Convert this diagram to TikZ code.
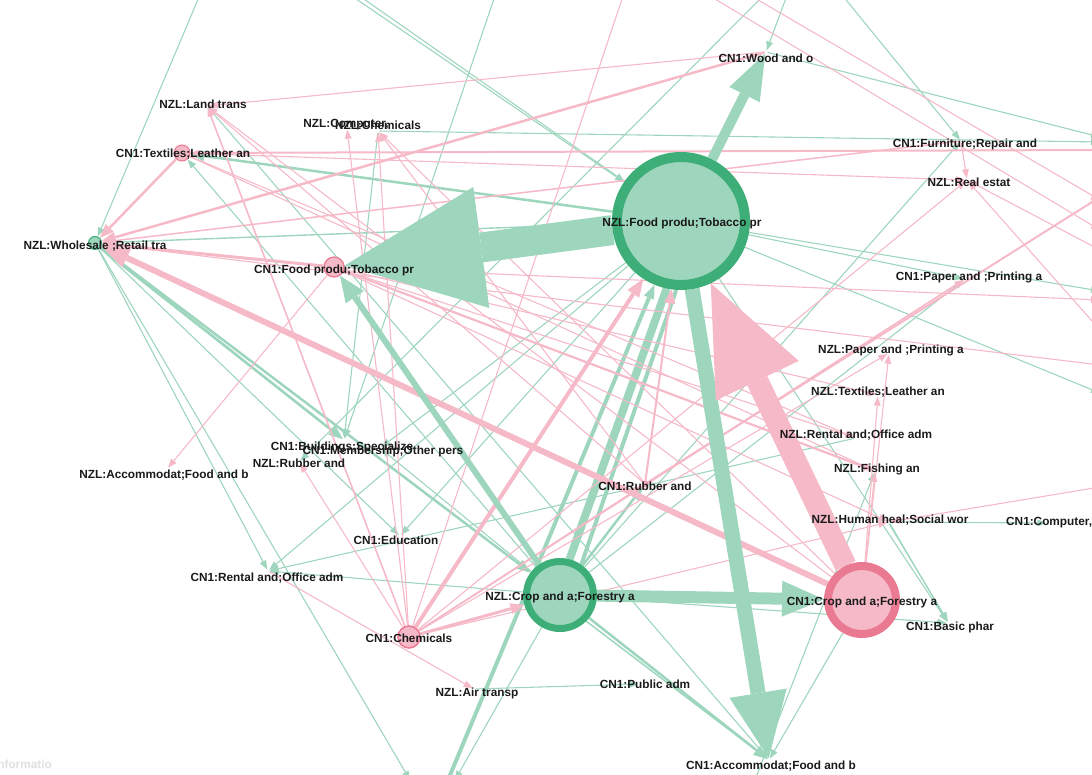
\documentclass[tikz,border=0pt]{standalone}
\usepackage{fontspec}
\setmainfont{Liberation Sans}
\usetikzlibrary{arrows.meta}
\definecolor{eg}{HTML}{9ED6BD}
\definecolor{ep}{HTML}{F5B9C7}
\definecolor{dg}{HTML}{3DAE77}
\definecolor{dp}{HTML}{EA7A92}
\definecolor{lab}{HTML}{1A1A1A}
\pgfdeclarelayer{bg}\pgfdeclarelayer{fg}\pgfsetlayers{bg,main,fg}
\tikzset{
 vtx/.style={circle,inner sep=0pt,minimum size=3pt},
 gv/.style={circle,inner sep=0pt,fill=eg,draw=dg},
 pv/.style={circle,inner sep=0pt,fill=ep,draw=dp},
 lbl/.style={font=\bfseries\fontsize{11.8}{12}\selectfont,text=lab,inner sep=0pt},
 g/.style={draw=eg,line width=1.1pt,-{Triangle[length=9pt,width=7pt,line width=0pt]}},
 p/.style={draw=ep,line width=1.1pt,-{Triangle[length=9pt,width=7pt,line width=0pt]}},
 gm/.style={draw=eg,line width=2.5pt,-{Triangle[length=14pt,width=11pt,line width=0pt]}},
 pm/.style={draw=ep,line width=2.5pt,-{Triangle[length=14pt,width=11pt,line width=0pt]}},
}
\begin{document}
\begin{tikzpicture}[x=1pt,y=-1pt]
\useasboundingbox (0,0) rectangle (1092,774);
\clip (0,0) rectangle (1092,774);
% ---- vertices ----
\node[gv,line width=10pt,minimum size=128pt] (nfood) at (681,221) {};
\node[gv,line width=7pt,minimum size=67pt] (ncrop) at (560,595) {};
\node[pv,line width=8pt,minimum size=68pt] (ccrop) at (862,600) {};
\node[pv,line width=1.5pt,minimum size=22pt] (cchem) at (409,637) {};
\node[pv,line width=1.2pt,minimum size=20pt] (cfood) at (334,267) {};
\node[pv,line width=1pt,minimum size=16pt] (ctex) at (182,153) {};
\node[gv,line width=1pt,minimum size=13pt] (nwhole) at (95,243) {};
\node[pv,line width=0.6pt,minimum size=6pt] (crub) at (645,484) {};
\node[vtx] (nland) at (207,106) {};
\node[vtx] (ncomp) at (347,128) {};
\node[vtx] (nchem) at (378,131) {};
\node[vtx] (cwood) at (766,52) {};
\node[vtx] (cfurn) at (961,141) {};
\node[vtx] (nreal) at (967,180) {};
\node[vtx] (cpaper) at (965,279) {};
\node[vtx] (npaper) at (889,353) {};
\node[vtx] (ntex) at (878,395) {};
\node[vtx] (nrent) at (856,438) {};
\node[vtx] (nfish) at (875,471) {};
\node[vtx] (nhuman) at (889,522) {};
\node[vtx] (ccomp) at (1048,523) {};
\node[vtx] (cbuild) at (344,440) {};
\node[vtx] (cmember) at (380,448) {};
\node[vtx] (nrubber) at (299,462) {};
\node[vtx] (naccom) at (167,469) {};
\node[vtx] (cedu) at (400,536) {};
\node[vtx] (crent) at (268,571) {};
\node[vtx] (nair) at (474,689) {};
\node[vtx] (cpublic) at (640,684) {};
\node[vtx] (cbasic) at (948,623) {};
\node[vtx] (caccom) at (769,760) {};
% off-picture ends
\coordinate (t1) at (202,-10); \coordinate (t2) at (343,-10); \coordinate (t3) at (351,-10);
\coordinate (t4) at (497,-10); \coordinate (t5) at (838,-10); \coordinate (t6) at (789,-10);
\coordinate (t7) at (625,-10); \coordinate (t8) at (700,-10); \coordinate (t9) at (769,-10);
\coordinate (t10) at (741,-10);
\coordinate (r1) at (1100,142); \coordinate (r2) at (1100,137); \coordinate (r3) at (1100,291);
\coordinate (r4) at (1100,393); \coordinate (r6) at (1100,150); \coordinate (r7) at (1100,197);
\coordinate (r8) at (1100,365); \coordinate (r9) at (1100,300); \coordinate (r10) at (1100,250);
\coordinate (r11) at (1100,330); \coordinate (r12) at (1100,487); \coordinate (r13) at (1100,200);
\coordinate (r14) at (1100,230);
\coordinate (b1) at (410,780); \coordinate (b2) at (448,780); \coordinate (b3) at (455,780);
\coordinate (b4) at (755,780);
% ---- connectors ----
\begin{pgfonlayer}{bg}
% thin green
\draw[g] (t1) -- (nwhole);
\draw[g] (t2) -- (nfood);
\draw[g] (t3) -- (nfood);
\draw[g] (t4) -- (cbuild);
\draw[g] (nchem) -- (r1);
\draw[g] (t5) -- (cfurn);
\draw[g] (cwood) -- (r2);
\draw[g] (t6) -- (cwood);
\draw[g] (nfood) -- (r3);
\draw[g] (nfood) -- (r4);
\draw[g] (nfood) -- (cpaper);
\draw[g] (ncrop) -- (cpaper);
\draw[g] (ncrop) -- (cfurn);
\draw[g] (nfood) -- (cbasic);
\draw[g] (nrent) -- (crent);
\draw[g] (ncrop) -- (crent);
\draw[g] (nair) -- (cpublic);
\draw[g] (ccrop) -- (caccom);
\draw[g] (nhuman) -- (ccomp);
\draw[g] (nhuman) -- (cbasic);
\draw[g] (nhuman.south) -- (cbasic.north);
\draw[g] (b4) -- (nfish);
\draw[g] (nchem) -- (cbuild);
\draw[g] (nland) -- (caccom);
\draw[g] (ncrop) -- (cbasic);
\draw[g] (ncrop) -- (b3);
\draw[g] (nwhole) -- (b1);
\draw[g] (nwhole) -- (crent);
\draw[g] (nwhole) -- (cedu);
\draw[g] (nfood) -- (cedu);
\draw[g] (nfood) -- (cmember);
\draw[g] (nfood) -- (crent);
\draw[g] (ncrop) -- (ctex);
\draw[g] (t9) -- (nrubber);
\draw[g,line width=1.4pt] (nfood) -- (nwhole);
\draw[g] (ncrop) -- (cmember);
% medium green
\draw[gm] (nfood) -- (ctex);
\draw[gm] (nwhole) -- (cbuild);
\draw[gm,line width=2pt] (nwhole.south east) -- (cbuild.north west);
\draw[gm] (nwhole) -- (ncrop);
\draw[gm] (ncrop) -- (crub);
\draw[gm] (ncrop) -- (caccom);
\draw[gm,line width=1.5pt] (ncrop.south east) -- (caccom);
\draw[gm,line width=4pt] (b2) -- (nfood);
\draw[draw=eg,line width=8pt] (ncrop.75) -- (nfood.258);
\draw[draw=eg,line width=4pt] (ncrop.55) -- (nfood.266);
% thin pink
\draw[p] (cwood) -- (nland);
\draw[p] (ccrop) -- (nland);
\draw[p] (crub) -- (nland);
\draw[p,line width=1.6pt] (cchem) -- (nland);
\draw[p,line width=2pt] (r6) -- (ctex);
\draw[p] (ctex) -- (nreal);
\draw[p] (ctex) -- (nrent);
\draw[p] (ctex) -- (nfish);
\draw[p] (cfood) -- (naccom);
\draw[p,line width=2.2pt] (cfood) -- (nfish);
\draw[p] (cfood) -- (ntex);
\draw[p] (cfood) -- (nrent);
\draw[p] (cfood) -- (nhuman);
\draw[p] (cfood) -- (r9);
\draw[p] (cchem) -- (ncomp);
\draw[p] (cchem) -- (nchem);
\draw[p] (ccrop) -- (nchem);
\draw[p] (crub) -- (nchem);
\draw[p,line width=1.8pt] (cchem) -- (cpaper);
\draw[p] (cchem) -- (nreal);
\draw[p] (cchem) -- (t7);
\draw[p] (cchem) -- (nhuman);
\draw[p] (cchem) -- (nrubber);
\draw[p] (cchem) -- (npaper);
\draw[p] (cchem) -- (crub);
\draw[p] (crent) -- (nair);
\draw[p] (cfurn) -- (nreal);
\draw[p] (r10) -- (nreal);
\draw[p] (r11) -- (nreal);
\draw[p] (ccrop) -- (npaper);
\draw[p] (ccrop) -- (nfish);
\draw[p] (r12) -- (nhuman);
\draw[p,line width=2pt] (crub) -- (r7);
\draw[p] (t10) -- (r13);
\draw[p] (t8) -- (r14);
\draw[p,line width=1.5pt] (cfurn) -- (nwhole);
\draw[p] (r8) -- (nwhole);
\draw[p] (ccrop) -- (ntex);
% medium pink
\draw[pm] (cwood) -- (nwhole);
\draw[pm] (ctex) -- (nwhole);
\draw[pm,line width=3pt] (cfood) -- (nwhole);
\draw[pm,line width=3pt] (cchem) -- (ncrop);
\draw[pm,line width=2pt] (crub) -- (nfood);
\draw[draw=ep,line width=4pt,-{Triangle[length=18pt,width=14pt,line width=0pt]}] (cchem) -- (nfood);
\draw[draw=ep,line width=6pt,-{Triangle[length=28pt,width=21pt,line width=0pt]}] (ccrop) -- (nwhole);
% heavy connectors
\draw[draw=eg,line width=6pt,-{Triangle[length=26pt,width=22pt,line width=0pt]}] (ncrop) -- (cfood);
\draw[draw=eg,line width=12pt,-{Triangle[length=42pt,width=36pt,line width=0pt]}] (ncrop) -- (ccrop);
\draw[draw=eg,line width=10pt,-{Triangle[length=46pt,width=34pt,line width=0pt]}] (nfood) -- (cwood);
\draw[draw=eg,line width=15pt,-{Triangle[length=66pt,width=58pt,line width=0pt]}] (nfood) -- (caccom);
\draw[draw=ep,line width=22pt,-{Triangle[length=108pt,width=92pt,line width=0pt]}] (ccrop) -- (nfood);
\draw[draw=eg,line width=30pt,-{Triangle[length=138pt,width=122pt,line width=0pt]}] (nfood) -- (cfood);
\end{pgfonlayer}
% ---- labels ----
\begin{pgfonlayer}{fg}
\node[lbl] (lnland) at (203,104) {NZL:Land trans};
\node[lbl] (lncomp) at (346,125) {NZL:Computer,};
\node[lbl] (lnchem) at (378,125) {NZL:Chemicals};
\node[lbl] (lctex) at (183,154) {CN1:Textiles;Leather an};
\node[lbl] (lnwhole) at (95,246) {NZL:Wholesale ;Retail tra};
\node[lbl] (lcfood) at (334,270) {CN1:Food produ;Tobacco pr};
\node[lbl] (lcwood) at (766,58) {CN1:Wood and o};
\node[lbl] (lcfurn) at (965,144) {CN1:Furniture;Repair and};
\node[lbl] (lnreal) at (969,182) {NZL:Real estat};
\node[lbl] (lnfood) at (682,223) {NZL:Food produ;Tobacco pr};
\node[lbl] (lcpaper) at (969,277) {CN1:Paper and ;Printing a};
\node[lbl] (lnpaper) at (891,350) {NZL:Paper and ;Printing a};
\node[lbl] (lntex) at (878,392) {NZL:Textiles;Leather an};
\node[lbl] (lnrent) at (856,435) {NZL:Rental and;Office adm};
\node[lbl] (lnfish) at (877,469) {NZL:Fishing an};
\node[lbl] (lcrub) at (645,486) {CN1:Rubber and};
\node[lbl] (lnhuman) at (890,520) {NZL:Human heal;Social wor};
\node[lbl,anchor=west] (lccomp) at (1006,523) {CN1:Computer,};
\node[lbl] (lcbuild) at (342,447) {CN1:Buildings;Specialize};
\node[lbl] (lcmember) at (383,451) {CN1:Membership;Other pers};
\node[lbl] (lnrubber) at (299,463) {NZL:Rubber and};
\node[lbl] (lnaccom) at (164,475) {NZL:Accommodat;Food and b};
\node[lbl] (lcedu) at (396,540) {CN1:Education};
\node[lbl] (lcrent) at (267,578) {CN1:Rental and;Office adm};
\node[lbl] (lncrop) at (560,597) {NZL:Crop and a;Forestry a};
\node[lbl] (lccrop) at (862,602) {CN1:Crop and a;Forestry a};
\node[lbl] (lcbasic) at (950,627) {CN1:Basic phar};
\node[lbl] (lcchem) at (409,638) {CN1:Chemicals};
\node[lbl] (lnair) at (477,693) {NZL:Air transp};
\node[lbl] (lcpublic) at (645,684) {CN1:Public adm};
\node[lbl] (lcaccom) at (771,766) {CN1:Accommodat;Food and b};
\node[lbl,anchor=east,text=black!12] (linfo) at (52,764) {Informatio};
\end{pgfonlayer}
\end{tikzpicture}
\end{document}
